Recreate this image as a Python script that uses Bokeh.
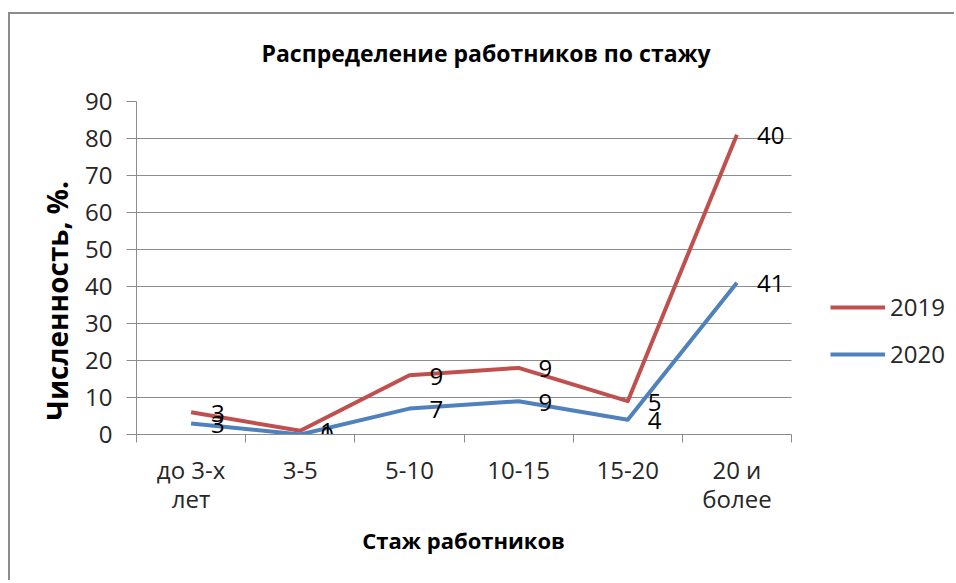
from bokeh.plotting import figure
from bokeh.models import FixedTicker, Legend, LegendItem, ColumnDataSource, Range1d, Title
from bokeh.core.properties import value
from bokeh.embed import file_html
from bokeh.resources import INLINE

categories = ["до 3-х\nлет", "3-5", "5-10", "10-15", "15-20", "20 и\nболее"]
values_2019 = [6, 1, 16, 18, 9, 81]
values_2020 = [3, 0, 7, 9, 4, 41]
labels_2019 = ["3", "1", "9", "9", "5", "40"]
labels_2020 = ["3", "0", "7", "9", "4", "41"]
y_ticks = list(range(0, 100, 10))
series_names = ["2019", "2020"]

FONT = "Open Sans"
GRAY = "#8c8c8c"
RED = "#C0504D"
BLUE = "#4F81BD"

n = len(categories)
xpos = [i + 0.5 for i in range(n)]

# layout geometry (pixels)
FRAME_W = 820          # frame runs to the right edge so the legend fits inside it
PLOT_W = 655           # width of the category area
x_end = n * FRAME_W / PLOT_W

p = figure(width=946, height=568,
           x_range=Range1d(0, x_end), y_range=Range1d(0, 90),
           output_backend="svg", toolbar_location=None,
           min_border_left=126, min_border_right=0,
           min_border_top=87, min_border_bottom=148,
           title="Распределение работников по стажу")

p.styles = {"margin-left": "8px", "margin-top": "12px",
            "border-left": "2px solid #8c8c8c", "border-top": "2px solid #8c8c8c"}

p.title.text_font = FONT
p.title.text_font_size = "23px"
p.title.text_font_style = "bold"
p.title.text_color = "#000000"
p.title.align = "left"
p.title.offset = 125
p.title.standoff = 10

# blank spacer between the title and the plot area
spacer = Title(text="\u00a0", text_font=FONT, text_font_size="19px", standoff=0)
p.add_layout(spacer, "above")

p.outline_line_color = None
p.background_fill_color = "white"
p.border_fill_color = "white"

# x axis
xa = p.xaxis[0]
xa.bounds = (0, n)
xa.ticker = FixedTicker(ticks=xpos, minor_ticks=list(range(n + 1)))
xa.major_label_overrides = {xp: c for xp, c in zip(xpos, categories)}
xa.major_tick_out = 0
xa.major_tick_in = 0
xa.minor_tick_out = 8
xa.minor_tick_in = 0
xa.minor_tick_line_color = GRAY
xa.axis_line_color = GRAY
xa.major_label_text_font = FONT
xa.major_label_text_font_size = "24px"
xa.major_label_text_color = "#262626"
xa.major_label_text_line_height = 0.9
xa.major_label_standoff = 10
# trailing no-break spaces shift the centred label left over the category area
xa.axis_label = "Стаж работников" + "\u00a0" * 29
xa.axis_label_text_font = FONT
xa.axis_label_text_font_size = "22px"
xa.axis_label_text_font_style = "bold"
xa.axis_label_text_color = "#000000"
xa.axis_label_standoff = 7

# y axis
ya = p.yaxis[0]
ya.ticker = FixedTicker(ticks=y_ticks)
ya.major_tick_out = 10
ya.major_tick_in = 0
ya.major_tick_line_color = GRAY
ya.minor_tick_line_color = None
ya.axis_line_color = GRAY
ya.major_label_text_font = FONT
ya.major_label_text_font_size = "24px"
ya.major_label_text_color = "#262626"
ya.major_label_standoff = 14
ya.axis_label = "Численность, %." + "\u00a0" * 9
ya.axis_label_text_font = FONT
ya.axis_label_text_font_size = "28px"
ya.axis_label_text_font_style = "bold"
ya.axis_label_text_color = "#000000"
ya.axis_label_standoff = 6

p.xgrid.visible = False
p.ygrid.ticker = FixedTicker(ticks=y_ticks)
p.ygrid.cross_bounds = (0, n)
p.ygrid.grid_line_color = GRAY
p.ygrid.grid_line_width = 1

src19 = ColumnDataSource(dict(x=xpos, y=values_2019, t=labels_2019))
src20 = ColumnDataSource(dict(x=xpos, y=values_2020, t=labels_2020))

r19 = p.line("x", "y", source=src19, line_color=RED, line_width=4, line_join="round")
r20 = p.line("x", "y", source=src20, line_color=BLUE, line_width=4, line_join="round")

for src in (src19, src20):
    p.text("x", "y", text="t", source=src, x_offset=20, y_offset=1,
           text_align="left", text_baseline="middle",
           text_font=value(FONT), text_font_size="24px", text_color="#000000")

legend = Legend(items=[LegendItem(label=series_names[0], renderers=[r19]),
                       LegendItem(label=series_names[1], renderers=[r20])],
                location=(694, 64), orientation="vertical",
                glyph_width=55, glyph_height=20, label_height=20,
                spacing=14, padding=0, margin=0, label_standoff=5,
                border_line_color=None, background_fill_alpha=0,
                label_text_font=FONT, label_text_font_size="24px",
                label_text_color="#262626")
p.add_layout(legend, "center")

open("out.html", "w").write(file_html(p, INLINE))
